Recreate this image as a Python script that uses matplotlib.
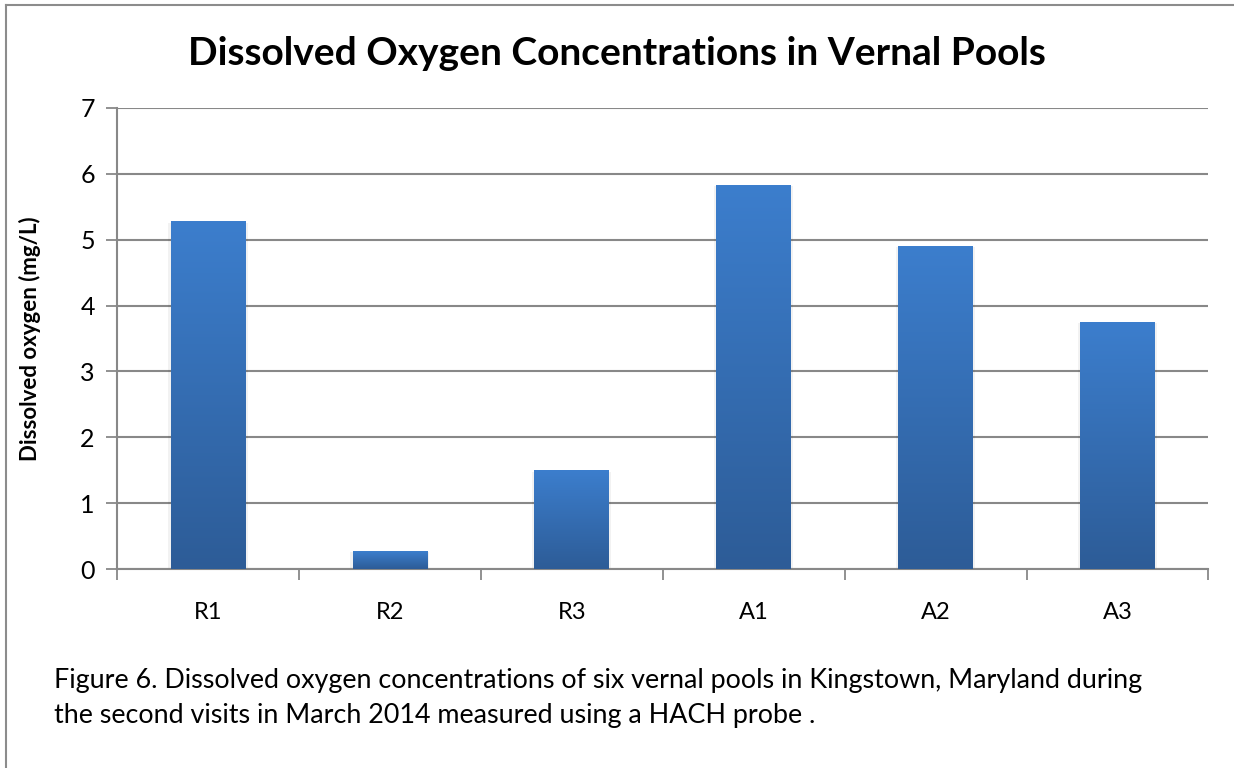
import numpy as np
import matplotlib.pyplot as plt
from matplotlib.lines import Line2D

# data
sites = ['R1', 'R2', 'R3', 'A1', 'A2', 'A3']
oxygen = [5.27, 0.27, 1.49, 5.82, 4.90, 3.75]
yticks = [0, 1, 2, 3, 4, 5, 6, 7]

title = 'Dissolved Oxygen Concentrations in Vernal Pools'
ylabel = 'Dissolved oxygen (mg/L)'
caption = ('Figure 6. Dissolved oxygen concentrations of six vernal pools in Kingstown, Maryland during\n'
           'the second visits in March 2014 measured using a HACH probe .')

plt.rcParams['font.family'] = ['Lato', 'DejaVu Sans']

fig = plt.figure(figsize=(12.34, 7.68), dpi=100)
ax = fig.add_axes([0.0948, 0.2591, 0.8845, 0.6003])

grid_col = '#888888'
top_col = np.array([0x3c, 0x7e, 0xcd]) / 255
bot_col = np.array([0x2d, 0x5c, 0x97]) / 255
grad = np.linspace(0, 1, 256)[:, None, None]
grad_img = top_col * (1 - grad) + bot_col * grad

x = np.arange(len(sites))
w = 0.41
for xi, v in zip(x, oxygen):
    # soft shadow
    ax.bar(xi, v + 0.03, width=w + 0.025, bottom=-0.04, color='#000000', alpha=0.05, zorder=2)
    ax.imshow(grad_img, extent=[xi - w / 2, xi + w / 2, 0, v], aspect='auto', zorder=3)

ax.set_xlim(-0.5, len(sites) - 0.5)
ax.set_ylim(0, 7)
ax.set_yticks(yticks)
ax.set_xticks(x)
ax.set_xticklabels(sites, fontsize=17)
ax.set_xticks(np.arange(len(sites) + 1) - 0.5, minor=True)
ax.tick_params(axis='x', which='major', length=0, pad=24)
ax.tick_params(axis='x', which='minor', length=8, width=1.3, color=grid_col)
ax.tick_params(axis='y', length=8, width=1.3, color=grid_col, labelsize=18, pad=8)

ax.grid(axis='y', color=grid_col, linewidth=1.5, zorder=0)
ax.set_axisbelow(True)
for s in ['top', 'right']:
    ax.spines[s].set_visible(False)
for s in ['left', 'bottom']:
    ax.spines[s].set_color(grid_col)
    ax.spines[s].set_linewidth(1.5)

ax.set_ylabel(ylabel, fontsize=16, fontweight='bold', labelpad=28)
fig.text(0.5, 0.93, title, ha='center', va='center', fontsize=28, fontweight='bold')
fig.text(0.044, 0.091, caption, ha='left', va='center', fontsize=19.4, linespacing=1.5)

# outer frame (clipped at right and bottom)
fig.add_artist(Line2D([6 / 1234, 6 / 1234], [0, 1 - 5 / 768], color='#8c8c8c', lw=1.5))
fig.add_artist(Line2D([6 / 1234, 1], [1 - 5 / 768, 1 - 5 / 768], color='#8c8c8c', lw=1.5))

fig.savefig('out.png', dpi=100)
